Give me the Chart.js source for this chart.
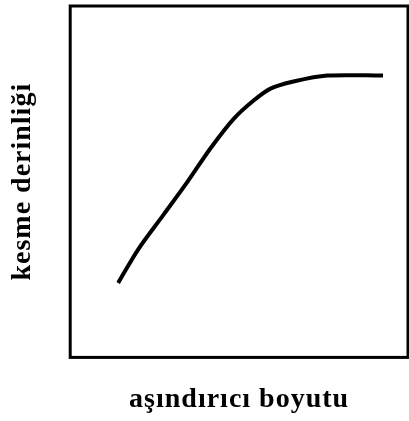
<!DOCTYPE html>
<html>
<head>
<meta charset="utf-8">
<script src="https://cdn.jsdelivr.net/npm/chart.js@4"></script>
<style>
  html, body { margin: 0; padding: 0; background: #fff; }
  canvas { display: block; }
</style>
</head>
<body>
<canvas id="chart" width="409" height="421"></canvas>
<script>
// values (arbitrary units, axes have no ticks)
const xValues = [1.42, 2.01, 2.77, 3.48, 4.16, 4.84, 5.43, 5.93, 6.61, 7.61, 9.26]
const yValues = [2.12, 3.07, 4.07, 5.01, 5.96, 6.79, 7.31, 7.65, 7.85, 8.02, 8.02]
const xTitle = 'aşındırıcı boyutu'
const yTitle = 'kesme derinliği'

const points = xValues.map((x, i) => ({ x: x, y: yValues[i] }))

const titleFont = { family: '"Liberation Serif", "Times New Roman", serif', size: 28, weight: 'bold' }

// the titles in the picture are spaced out a little
const spacing = {
  id: 'spacing',
  beforeDraw(chart) {
    chart.ctx.letterSpacing = '1px'
  }
}

// frame round the plot area
const frame = {
  id: 'frame',
  afterDraw(chart) {
    const { ctx, chartArea: a } = chart
    ctx.save()
    ctx.strokeStyle = '#000'
    ctx.lineWidth = 3
    ctx.strokeRect(a.left, a.top, a.right - a.left, a.bottom - a.top)
    ctx.restore()
  }
}

const ctx = document.getElementById('chart').getContext('2d')
const chart = new Chart(ctx, {
  type: 'line',
  data: {
    datasets: [{
      data: points,
      borderColor: '#000',
      borderWidth: 4,
      pointRadius: 0,
      fill: false,
      tension: 0.3
    }]
  },
  options: {
    responsive: false,
    animation: false,
    layout: { padding: { left: 6, right: 1, top: 6, bottom: 4 } },
    plugins: { legend: { display: false }, tooltip: { enabled: false } },
    scales: {
      x: {
        type: 'linear',
        min: 0,
        max: 10,
        grid: { display: false },
        border: { display: false },
        ticks: { display: false },
        title: { display: true, text: xTitle, color: '#000', font: titleFont, padding: { top: 18, bottom: 0 } }
      },
      y: {
        min: 0,
        max: 10,
        grid: { display: false },
        border: { display: false },
        ticks: { display: false },
        title: { display: true, text: yTitle, color: '#000', font: titleFont, padding: { top: 0, bottom: 22.6 } }
      }
    }
  },
  plugins: [spacing, frame]
})
</script>
</body>
</html>
